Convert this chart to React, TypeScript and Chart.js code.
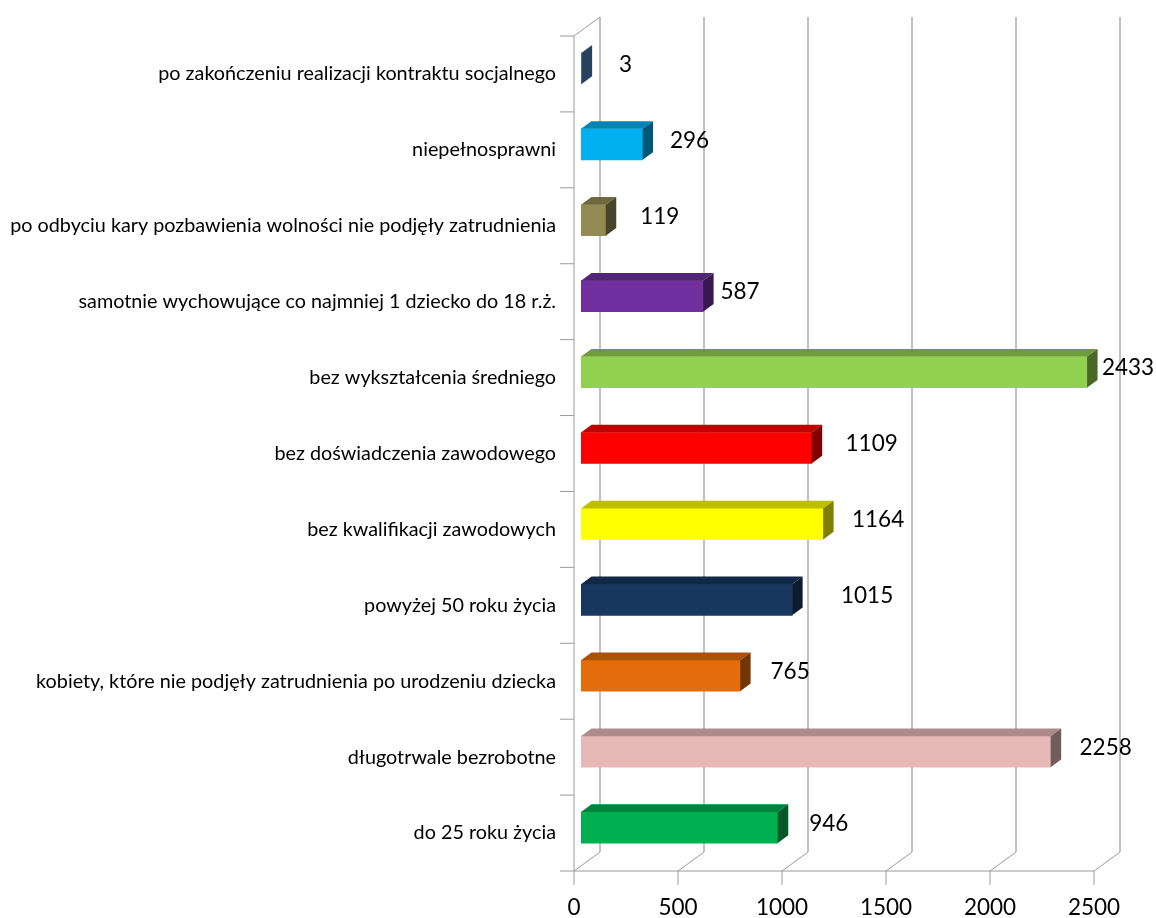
import React, { useEffect, useRef } from "react";
import { Chart, registerables } from "chart.js";

Chart.register(...registerables);

const categories = [
  "po zakończeniu realizacji kontraktu socjalnego",
  "niepełnosprawni",
  "po odbyciu kary pozbawienia wolności nie podjęły zatrudnienia",
  "samotnie wychowujące co najmniej 1 dziecko do 18 r.ż.",
  "bez wykształcenia średniego",
  "bez doświadczenia zawodowego",
  "bez kwalifikacji zawodowych",
  "powyżej 50 roku życia",
  "kobiety, które nie podjęły zatrudnienia po urodzeniu dziecka",
  "długotrwale bezrobotne",
  "do 25 roku życia",
];
const values = [3, 296, 119, 587, 2433, 1109, 1164, 1015, 765, 2258, 946];
const barColors = [
  [79, 129, 189], [0, 176, 240], [148, 138, 84], [112, 48, 160], [146, 208, 80], [255, 0, 0],
  [255, 255, 0], [23, 55, 94], [228, 108, 10], [230, 185, 184], [0, 176, 80],
];
const labelGaps = [44, 47, 54, 37, 41, 60, 55, 75, 50, 55, 51];

const FONT = "Lato, Carlito, sans-serif";
const DEPTH_X = 10.5;
const DEPTH_Y = -7.7;
const FRONT_X = -7;
const FRONT_Y = 5.5;
const BACK_X = 19;
const BACK_Y = -13.5;

const shade = (c: number[], f: number) => `rgb(${c.map((v) => Math.round(v * f)).join(",")})`;

const poly = (ctx: CanvasRenderingContext2D, pts: number[][], fill: string) => {
  ctx.beginPath();
  pts.forEach(([x, y], i) => (i ? ctx.lineTo(x, y) : ctx.moveTo(x, y)));
  ctx.closePath();
  ctx.fillStyle = fill;
  ctx.fill();
};

const seg = (ctx: CanvasRenderingContext2D, x1: number, y1: number, x2: number, y2: number) => {
  ctx.beginPath();
  ctx.moveTo(x1, y1);
  ctx.lineTo(x2, y2);
  ctx.stroke();
};

const walls = {
  id: "walls",
  beforeDatasetsDraw(chart: any) {
    const { ctx, chartArea: a, scales } = chart;
    const x = scales.x;
    const fTop = a.top + FRONT_Y;
    const fBot = a.bottom + FRONT_Y;
    const bTop = a.top + BACK_Y;
    const bBot = a.bottom + BACK_Y;
    ctx.save();
    ctx.strokeStyle = "#ADADAD";
    ctx.lineWidth = 1.5;
    x.ticks.forEach((t: any) => {
      const px = x.getPixelForValue(t.value);
      seg(ctx, px + BACK_X, bTop, px + BACK_X, bBot);
    });
    ctx.strokeStyle = "#9A9A9A";
    ctx.lineWidth = 1;
    x.ticks.forEach((t: any) => {
      const px = x.getPixelForValue(t.value);
      seg(ctx, px + FRONT_X, fBot, px + BACK_X, bBot);
      seg(ctx, px + FRONT_X, fBot, px + FRONT_X, fBot + 14);
    });
    const x0 = x.getPixelForValue(0);
    const x1 = x.getPixelForValue(2500);
    seg(ctx, x0 + FRONT_X, fBot, x1 + FRONT_X, fBot);
    seg(ctx, x0 + FRONT_X, fTop, x0 + FRONT_X, fBot);
    seg(ctx, x0 + FRONT_X, fTop, x0 + BACK_X, bTop);
    const band = (a.bottom - a.top) / categories.length;
    for (let i = 0; i <= categories.length; i++) {
      const y = fTop + i * band;
      seg(ctx, x0 + FRONT_X - 14, y, x0 + FRONT_X, y);
    }
    ctx.restore();
  },
  afterDatasetsDraw(chart: any) {
    const { ctx } = chart;
    const meta = chart.getDatasetMeta(0);
    ctx.save();
    meta.data.forEach((bar: any, i: number) => {
      const c = barColors[i];
      const l = bar.base;
      const r = bar.x;
      const t = bar.y - bar.height / 2;
      const b = bar.y + bar.height / 2;
      poly(ctx, [[l, t], [r, t], [r + DEPTH_X, t + DEPTH_Y], [l + DEPTH_X, t + DEPTH_Y]], shade(c, 0.75));
      poly(ctx, [[r, t], [r + DEPTH_X, t + DEPTH_Y], [r + DEPTH_X, b + DEPTH_Y], [r, b]], shade(c, 0.5));
      ctx.fillStyle = "#000";
      ctx.font = `22.5px ${FONT}`;
      ctx.textAlign = "center";
      ctx.textBaseline = "middle";
      ctx.fillText(String(values[i]), r + labelGaps[i], bar.y - 4);
    });
    ctx.restore();
  },
};

const zeroPadding = (s: any) => {
  s.paddingTop = 0;
  s.paddingBottom = 0;
  s.paddingLeft = 0;
  s.paddingRight = 0;
};

export default function App() {
  const ref = useRef<HTMLCanvasElement>(null);
  useEffect(() => {
    const chart = new Chart(ref.current!, {
      type: "bar",
      data: {
        labels: categories,
        datasets: [
          {
            data: values,
            backgroundColor: barColors.map((c) => shade(c, 1)),
            barThickness: 31,
            borderWidth: 0,
          },
        ],
      },
      options: {
        indexAxis: "y",
        animation: false,
        responsive: false,
        layout: { padding: { left: 0, right: 55, top: 30.5, bottom: 0 } },
        plugins: { legend: { display: false }, tooltip: { enabled: false } },
        scales: {
          x: {
            min: 0,
            max: 2500,
            grid: { display: false },
            border: { display: false },
            ticks: {
              stepSize: 500,
              maxRotation: 0,
              padding: 21,
              labelOffset: FRONT_X,
              color: "#000",
              font: { family: FONT, size: 22.5 },
              callback: (v: any) => String(v),
            },
            afterFit: (s: any) => {
              s.height = 52.5;
              zeroPadding(s);
            },
          },
          y: {
            grid: { display: false },
            border: { display: false },
            ticks: {
              autoSkip: false,
              padding: 17,
              labelOffset: FRONT_Y,
              color: "#000",
              font: { family: FONT, size: 19.8 },
            },
            afterFit: (s: any) => {
              s.width = 581;
              zeroPadding(s);
            },
          },
        },
      },
      plugins: [walls],
    } as any);
    return () => chart.destroy();
  }, []);
  return (
    <div style={{ position: "fixed", left: 0, top: 0, width: 1156, height: 918, background: "#fff" }}>
      <canvas ref={ref} width={1156} height={918} style={{ display: "block" }} />
    </div>
  );
}
